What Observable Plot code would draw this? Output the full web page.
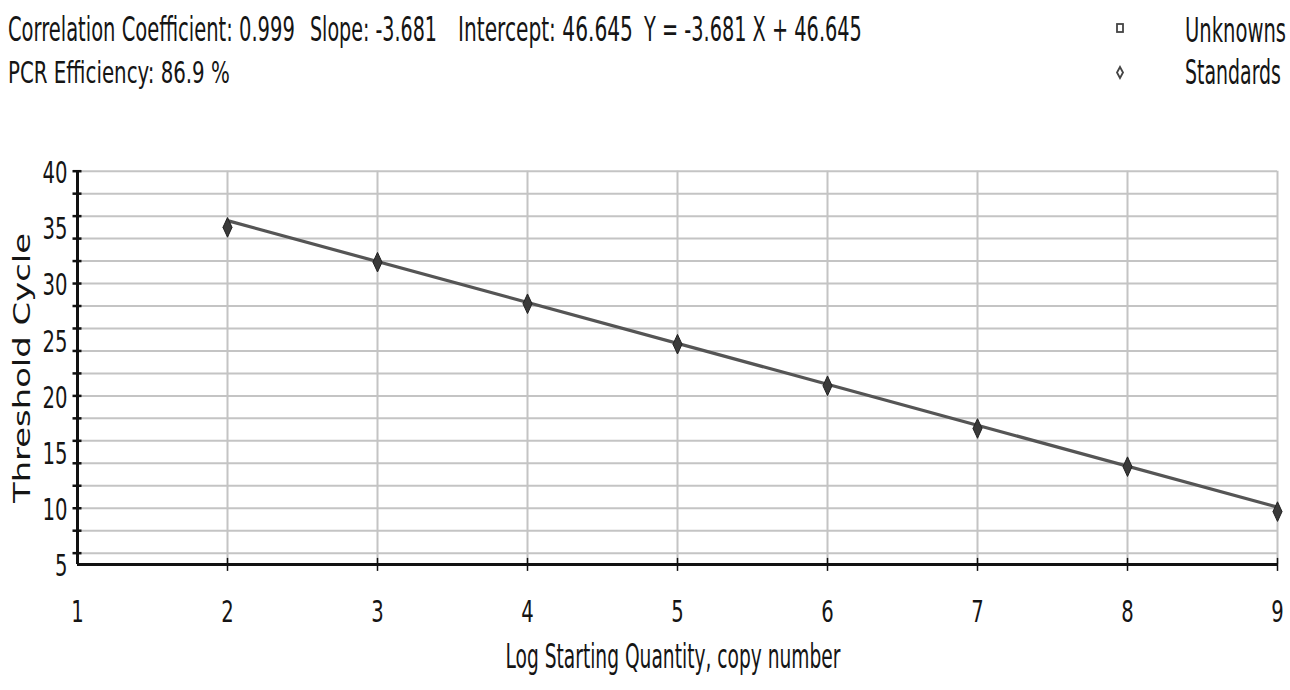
<!DOCTYPE html>
<html>
<head>
<meta charset="utf-8">
<script src="https://cdn.jsdelivr.net/npm/d3@7"></script>
<script src="https://cdn.jsdelivr.net/npm/@observablehq/plot@0.6"></script>
<style>
  html, body { margin: 0; padding: 0; background: #fff; }
  #header { display: block; }
  .cond { font-family: "Liberation Sans Narrow", "DejaVu Sans Condensed", "DejaVu Sans", sans-serif; fill: #151515; }
</style>
</head>
<body>
<svg id="header" width="1290" height="110"></svg>
<div id="chart"></div>
<script>
// ---- data ----
const stdLogQty = [2, 3, 4, 5, 6, 7, 8, 9];
const stdCt = [35.0, 31.9, 28.2, 24.6, 20.9, 17.1, 13.7, 9.7];
const fitX = [2, 9];
const fitY = [35.6, 10.1];
const xTicks = [1, 2, 3, 4, 5, 6, 7, 8, 9];
const xGrid = [2, 3, 4, 5, 6, 7, 8, 9];
const yLabels = [5, 10, 15, 20, 25, 30, 35, 40];
const yGrid = [6, 8, 10, 12, 14, 16, 18, 20, 22, 24, 26, 28, 30, 32, 34, 36, 38, 40];
const statsLine1 = ["Correlation Coefficient: 0.999", "Slope: -3.681", "Intercept: 46.645", "Y = -3.681 X + 46.645"];
const statsLine2 = ["PCR Efficiency: 86.9 %"];
const legendLabels = ["Unknowns", "Standards"];
const xTitle = "Log Starting Quantity, copy number";
const yTitle = "Threshold Cycle";

// ---- header (stats + legend) ----
const hdr = d3.select("#header");
// place a condensed text: natural width fitted to target, stretched vertically to the wanted size
function tallText(parent, str, x, y, width, size) {
  const t = parent.append("text").attr("class", "cond").attr("font-size", 30).text(str);
  const w30 = t.node().getComputedTextLength();
  const fs = 30 * width / w30;
  t.attr("font-size", fs).attr("transform", `translate(${x},${y}) scale(1,${size / fs})`);
  return t;
}
const line1Pos = [[8, 287], [310, 127], [458, 175], [644, 218]];
statsLine1.forEach((s, i) => tallText(hdr, s, line1Pos[i][0], 41, line1Pos[i][1], 34));
tallText(hdr, statsLine2[0], 8, 83, 222, 31);
// legend
hdr.append("rect").attr("x", 1117).attr("y", 24).attr("width", 6).attr("height", 8)
  .attr("fill", "none").attr("stroke", "#444").attr("stroke-width", 1.8);
hdr.append("path").attr("d", "M1120,67 L1123,72.5 L1120,78 L1117,72.5 Z")
  .attr("fill", "none").attr("stroke", "#444").attr("stroke-width", 1.8);
tallText(hdr, legendLabels[0], 1185, 42, 101, 33);
tallText(hdr, legendLabels[1], 1185, 84, 96, 33);

// ---- custom tall diamond symbol ----
const tallDiamond = {
  draw(context, size) {
    const r = Math.sqrt(size / Math.PI);
    const w = r * 0.65, h = r * 1.4;
    context.moveTo(0, -h);
    context.lineTo(w, 0);
    context.lineTo(0, h);
    context.lineTo(-w, 0);
    context.closePath();
  }
};

const condFont = '"Liberation Sans Narrow", "DejaVu Sans Condensed", "DejaVu Sans", sans-serif';

const plot = Plot.plot({
  width: 1290,
  height: 580,
  marginLeft: 77,
  marginRight: 13,
  marginTop: 60.7,
  marginBottom: 126.1,
  x: { domain: [1, 9], axis: null },
  y: { domain: [5, 40], axis: null },
  style: { background: "#fff", overflow: "visible" },
  marks: [
    Plot.ruleY(yGrid, { x1: 1, x2: 9, stroke: "#c4c4c4", strokeWidth: 2 }),
    Plot.ruleX(xGrid, { y1: 5, y2: 40, stroke: "#c4c4c4", strokeWidth: 2 }),
    // left axis with ticks
    Plot.ruleX([1], { y1: 5, y2: 40, stroke: "#111", strokeWidth: 3 }),
    Plot.ruleY(yGrid, { x1: 1, x2: 1, insetLeft: -4.5, insetRight: -4.5, stroke: "#111", strokeWidth: 2.5 }),
    // bottom axis with ticks
    Plot.ruleY([5], { x1: 1, x2: 9, stroke: "#111", strokeWidth: 3 }),
    Plot.ruleX(xGrid, { y1: 5, y2: 5, insetTop: -6, insetBottom: -7, stroke: "#111", strokeWidth: 1.5 }),
    // regression line
    Plot.line(fitX.map((x, i) => ({ x, y: fitY[i] })), { x: "x", y: "y", stroke: "#555", strokeWidth: 3.2 }),
    // standards
    Plot.dot(stdLogQty.map((x, i) => ({ x, y: stdCt[i] })), {
      x: "x", y: "y", symbol: tallDiamond, r: 7, fill: "#3a3a3a", stroke: "#222", strokeWidth: 1
    }),
    // y tick labels
    Plot.text(yLabels, {
      x: 1, y: d => d, text: d => String(d), dx: -10, dy: 2, textAnchor: "end",
      fontSize: 31, fill: "#151515", className: "ylab"
    }),
    // x tick labels
    Plot.text(xTicks, {
      x: d => d, y: 5, text: d => String(d), dy: 48,
      fontSize: 31, fill: "#151515", className: "xlab"
    }),
    // x title
    Plot.text([xTitle], {
      frameAnchor: "bottom", text: d => d, dx: -4.5, dy: 104,
      fontSize: 33, fill: "#151515", className: "xtitle"
    })
  ]
});

document.getElementById("chart").appendChild(plot);

const svg = d3.select(plot);
svg.selectAll(".ylab text, .xlab text, .xtitle text").attr("font-family", condFont);
svg.selectAll(".ylab text, .xlab text").each(function () {
  const t = d3.select(this).text();
  d3.select(this).attr("textLength", 12.5 * t.length).attr("lengthAdjust", "spacingAndGlyphs");
});
svg.selectAll(".xtitle text").attr("textLength", 335).attr("lengthAdjust", "spacingAndGlyphs");
// y-axis title
svg.append("text")
  .attr("transform", "translate(30,258) rotate(-90)")
  .attr("text-anchor", "middle")
  .attr("font-family", '"DejaVu Sans", Verdana, sans-serif')
  .attr("font-size", 23)
  .attr("fill", "#151515")
  .attr("textLength", 270).attr("lengthAdjust", "spacingAndGlyphs")
  .text(yTitle);
</script>
</body>
</html>
